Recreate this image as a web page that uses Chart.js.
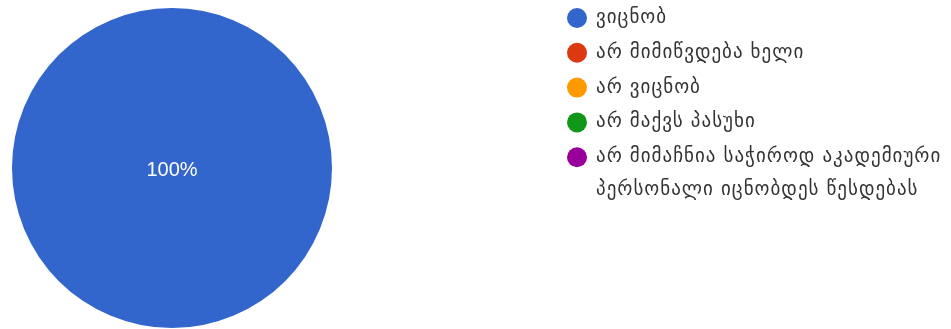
<!DOCTYPE html>
<html>
<head>
<meta charset="utf-8">
<script src="https://cdn.jsdelivr.net/npm/chart.js@4.4.0/dist/chart.umd.min.js"></script>
<style>
  html, body { margin: 0; padding: 0; background: #fff; }
  #wrap { width: 951px; height: 329px; position: relative; }
</style>
</head>
<body>
<div id="wrap"><canvas id="myViz"></canvas></div>
<script>
// answer options (Georgian), last one wraps onto two lines
const categories = [
  ['ვიცნობ'],
  ['არ მიმიწვდება ხელი'],
  ['არ ვიცნობ'],
  ['არ მაქვს პასუხი'],
  ['არ მიმაჩნია საჭიროდ აკადემიური', 'პერსონალი იცნობდეს წესდებას']
];
// share of answers, percent
const values = [100, 0, 0, 0, 0];
const colors = ['#3366cc', '#dc3912', '#ff9900', '#109618', '#990099'];

const legendFont = '19px "DejaVu Sans", sans-serif';

// percent label inside slices
const sliceLabels = {
  id: 'sliceLabels',
  afterDatasetsDraw(chart) {
    const ctx = chart.ctx;
    const meta = chart.getDatasetMeta(0);
    const total = values.reduce((a, b) => a + b, 0);
    ctx.save();
    ctx.fillStyle = '#ffffff';
    ctx.font = '20px Arial, "Liberation Sans", sans-serif';
    ctx.textAlign = 'center';
    ctx.textBaseline = 'middle';
    meta.data.forEach((arc, i) => {
      const v = values[i];
      if (!v) return;
      const pct = Math.round(v / total * 100);
      let pos;
      if (pct === 100) {
        pos = { x: arc.x, y: arc.y };
      } else {
        pos = arc.tooltipPosition();
      }
      ctx.fillText(pct + '%', pos.x, pos.y + 2);
    });
    ctx.restore();
  }
};

// legend drawn on the right, like the form summary
const sideLegend = {
  id: 'sideLegend',
  afterDraw(chart) {
    const ctx = chart.ctx;
    const x0 = 577;
    let y = 18;
    const rowH = 34.8;
    const lineH = 33;
    ctx.save();
    ctx.font = legendFont;
    ctx.letterSpacing = '1px';
    ctx.textBaseline = 'middle';
    categories.forEach((lines, i) => {
      ctx.fillStyle = colors[i];
      ctx.beginPath();
      ctx.arc(x0, y, 10, 0, Math.PI * 2);
      ctx.fill();
      ctx.fillStyle = '#333333';
      lines.forEach((t, j) => {
        ctx.fillText(t, 596, y + j * lineH);
      });
      y += rowH;
    });
    ctx.restore();
  }
};

const canvasElement = document.getElementById('myViz');
new Chart(canvasElement, {
  type: 'pie',
  data: {
    labels: categories.map(c => c.join(' ')),
    datasets: [{
      data: values,
      backgroundColor: colors,
      borderWidth: 0
    }]
  },
  options: {
    responsive: true,
    maintainAspectRatio: false,
    animation: false,
    layout: { padding: { left: 12, right: 619, top: 7, bottom: 0 } },
    plugins: {
      legend: { display: false },
      tooltip: { enabled: false }
    }
  },
  plugins: [sliceLabels, sideLegend]
});
</script>
</body>
</html>
